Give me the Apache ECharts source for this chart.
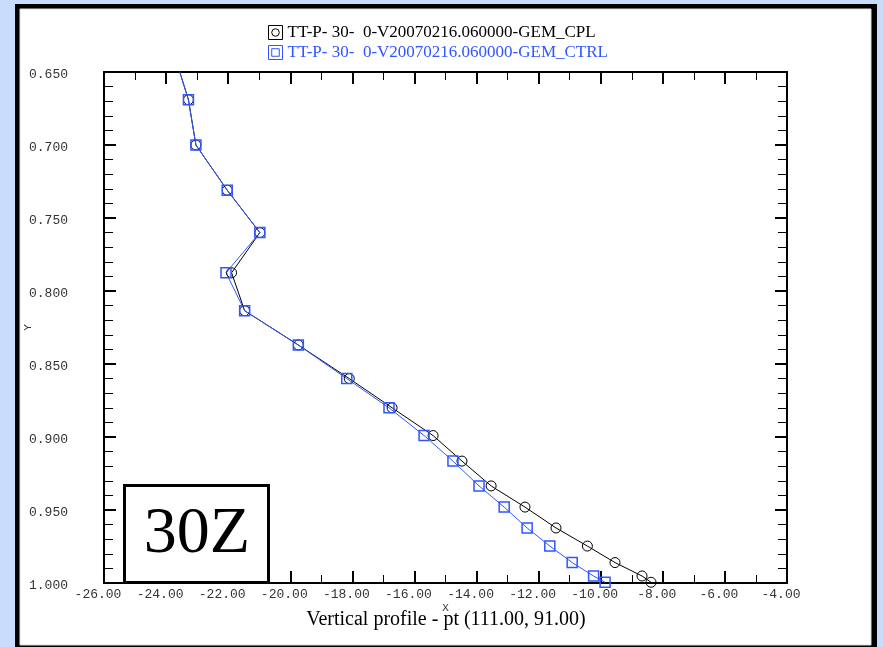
<!DOCTYPE html>
<html>
<head>
<meta charset="utf-8">
<script src="https://cdn.jsdelivr.net/npm/echarts@6/dist/echarts.min.js"></script>
<style>
  html, body { margin: 0; padding: 0; background: #c8dcfc; }
  #chart { width: 883px; height: 647px; }
</style>
</head>
<body>
<div id="chart"></div>
<script>
// sigma levels (Y) shared by both runs; first one sits above the plot and gets clipped
const levels = [0.637, 0.669, 0.700, 0.731, 0.760, 0.7875, 0.8135, 0.837, 0.860, 0.880,
  0.899, 0.9165, 0.9335, 0.948, 0.9623, 0.9747, 0.986, 0.9952, 0.9995];
const cplValues = [-23.75, -23.28, -23.04, -22.03, -20.98, -21.89, -21.47, -19.74, -18.10, -16.72,
  -15.40, -14.47, -13.53, -12.44, -11.44, -10.43, -9.54, -8.67, -8.38];
const ctrlValues = [-23.75, -23.28, -23.04, -22.03, -20.98, -22.07, -21.47, -19.74, -18.18, -16.82,
  -15.69, -14.76, -13.92, -13.11, -12.37, -11.64, -10.92, -10.23, -9.86];
const seriesNames = ['TT-P- 30-  0-V20070216.060000-GEM_CPL', 'TT-P- 30-  0-V20070216.060000-GEM_CTRL'];
const xRange = [-26, -4];
const yRange = [0.65, 1.0];

const BLUE = '#2f56ff';
const monoFont = '"Liberation Mono", "DejaVu Sans Mono", monospace';
const serifFont = '"Liberation Serif", "DejaVu Serif", serif';

const chart = echarts.init(document.getElementById('chart'));

function xAxisOpt(pos, showLabel) {
  return {
    type: 'value', position: pos, min: xRange[0], max: xRange[1], interval: 2,
    axisLine: { show: true, onZero: false, lineStyle: { color: '#000', width: 2 } },
    axisTick: { show: true, inside: true, length: 12, lineStyle: { color: '#000', width: 2 } },
    minorTick: { show: true, splitNumber: 2, length: 8, lineStyle: { color: '#000', width: 1 } },
    splitLine: { show: false },
    axisLabel: {
      show: showLabel, margin: 5, fontFamily: monoFont, fontSize: 13, color: '#333',
      padding: [0, 12, 0, 0],
      formatter: v => v.toFixed(2)
    },
    name: showLabel ? 'X' : '', nameLocation: 'middle', nameGap: 20, nameMoveOverlap: false,
    nameTextStyle: { fontFamily: monoFont, fontSize: 11, color: '#333' }
  };
}
function yAxisOpt(pos, showLabel) {
  return {
    type: 'value', position: pos, inverse: true, min: yRange[0], max: yRange[1], interval: 0.05,
    axisLine: { show: true, onZero: false, lineStyle: { color: '#000', width: 2 } },
    axisTick: { show: true, inside: true, length: 12, lineStyle: { color: '#000', width: 2 } },
    minorTick: { show: true, splitNumber: 5, length: 9, lineStyle: { color: '#000', width: 1 } },
    splitLine: { show: false },
    axisLabel: {
      show: showLabel, margin: 36, fontFamily: monoFont, fontSize: 13, color: '#333',
      verticalAlign: 'top', lineHeight: 6,
      formatter: v => v.toFixed(3)
    },
    name: showLabel ? 'Y' : '', nameLocation: 'middle', nameGap: 70, nameRotate: 90, nameMoveOverlap: false,
    nameTextStyle: { fontFamily: monoFont, fontSize: 11, color: '#333' }
  };
}

const option = {
  backgroundColor: '#c8dcfc',
  animation: false,
  graphic: [
    { type: 'rect', z: -100, silent: true, shape: { x: 15, y: 4, width: 862, height: 700 }, style: { fill: '#000' } },
    { type: 'rect', z: -99, silent: true, shape: { x: 20, y: 9, width: 851, height: 636 }, style: { fill: '#fff', stroke: '#ddd', lineWidth: 1 } },
    { type: 'rect', z: 50, silent: true, shape: { x: 124.5, y: 485.5, width: 144, height: 97 }, style: { fill: '#fff', stroke: '#000', lineWidth: 3 } },
    { type: 'text', z: 51, silent: true, style: { x: 197, y: 535, text: '30Z', font: '66px ' + serifFont, fill: '#000', textAlign: 'center', textVerticalAlign: 'middle' } },
    { type: 'text', z: 51, silent: true, style: { x: 446, y: 620, text: 'Vertical profile - pt (111.00, 91.00)', font: '20px ' + serifFont, fill: '#000', textAlign: 'center', textVerticalAlign: 'middle' } }
  ],
  legend: {
    orient: 'vertical', left: 263, top: 19, itemWidth: 14, itemHeight: 14, itemGap: 3,
    textStyle: { fontFamily: serifFont, fontSize: 17, lineHeight: 14 },
    data: [
      { name: seriesNames[0], icon: 'path://M0,0 L13,0 L13,13 L0,13 Z M10,6.5 A3.5,3.5 0 1,1 3,6.5 A3.5,3.5 0 1,1 10,6.5 Z',
        itemStyle: { color: 'transparent', borderColor: '#000', borderWidth: 1 }, textStyle: { color: '#000' } },
      { name: seriesNames[1], icon: 'path://M0,0 L13,0 L13,13 L0,13 Z M3,3 L10,3 L10,10 L3,10 Z',
        itemStyle: { color: 'transparent', borderColor: BLUE, borderWidth: 1 }, textStyle: { color: BLUE } }
    ]
  },
  grid: { left: 104, top: 72, right: 96, bottom: 64 },
  xAxis: [xAxisOpt('bottom', true), xAxisOpt('top', false)],
  yAxis: [yAxisOpt('left', true), yAxisOpt('right', false)],
  series: [
    {
      name: seriesNames[0], type: 'line', clip: true,
      data: cplValues.map((v, i) => [v, levels[i]]),
      symbol: 'circle', symbolSize: 10,
      lineStyle: { color: '#000', width: 1 },
      itemStyle: { color: 'transparent', borderColor: '#000', borderWidth: 1 }
    },
    {
      name: seriesNames[1], type: 'line', clip: true,
      data: ctrlValues.map((v, i) => [v, levels[i]]),
      symbol: 'rect', symbolSize: 10,
      lineStyle: { color: BLUE, width: 1 },
      itemStyle: { color: 'transparent', borderColor: BLUE, borderWidth: 1.5 }
    }
  ]
};
chart.setOption(option);
</script>
</body>
</html>
